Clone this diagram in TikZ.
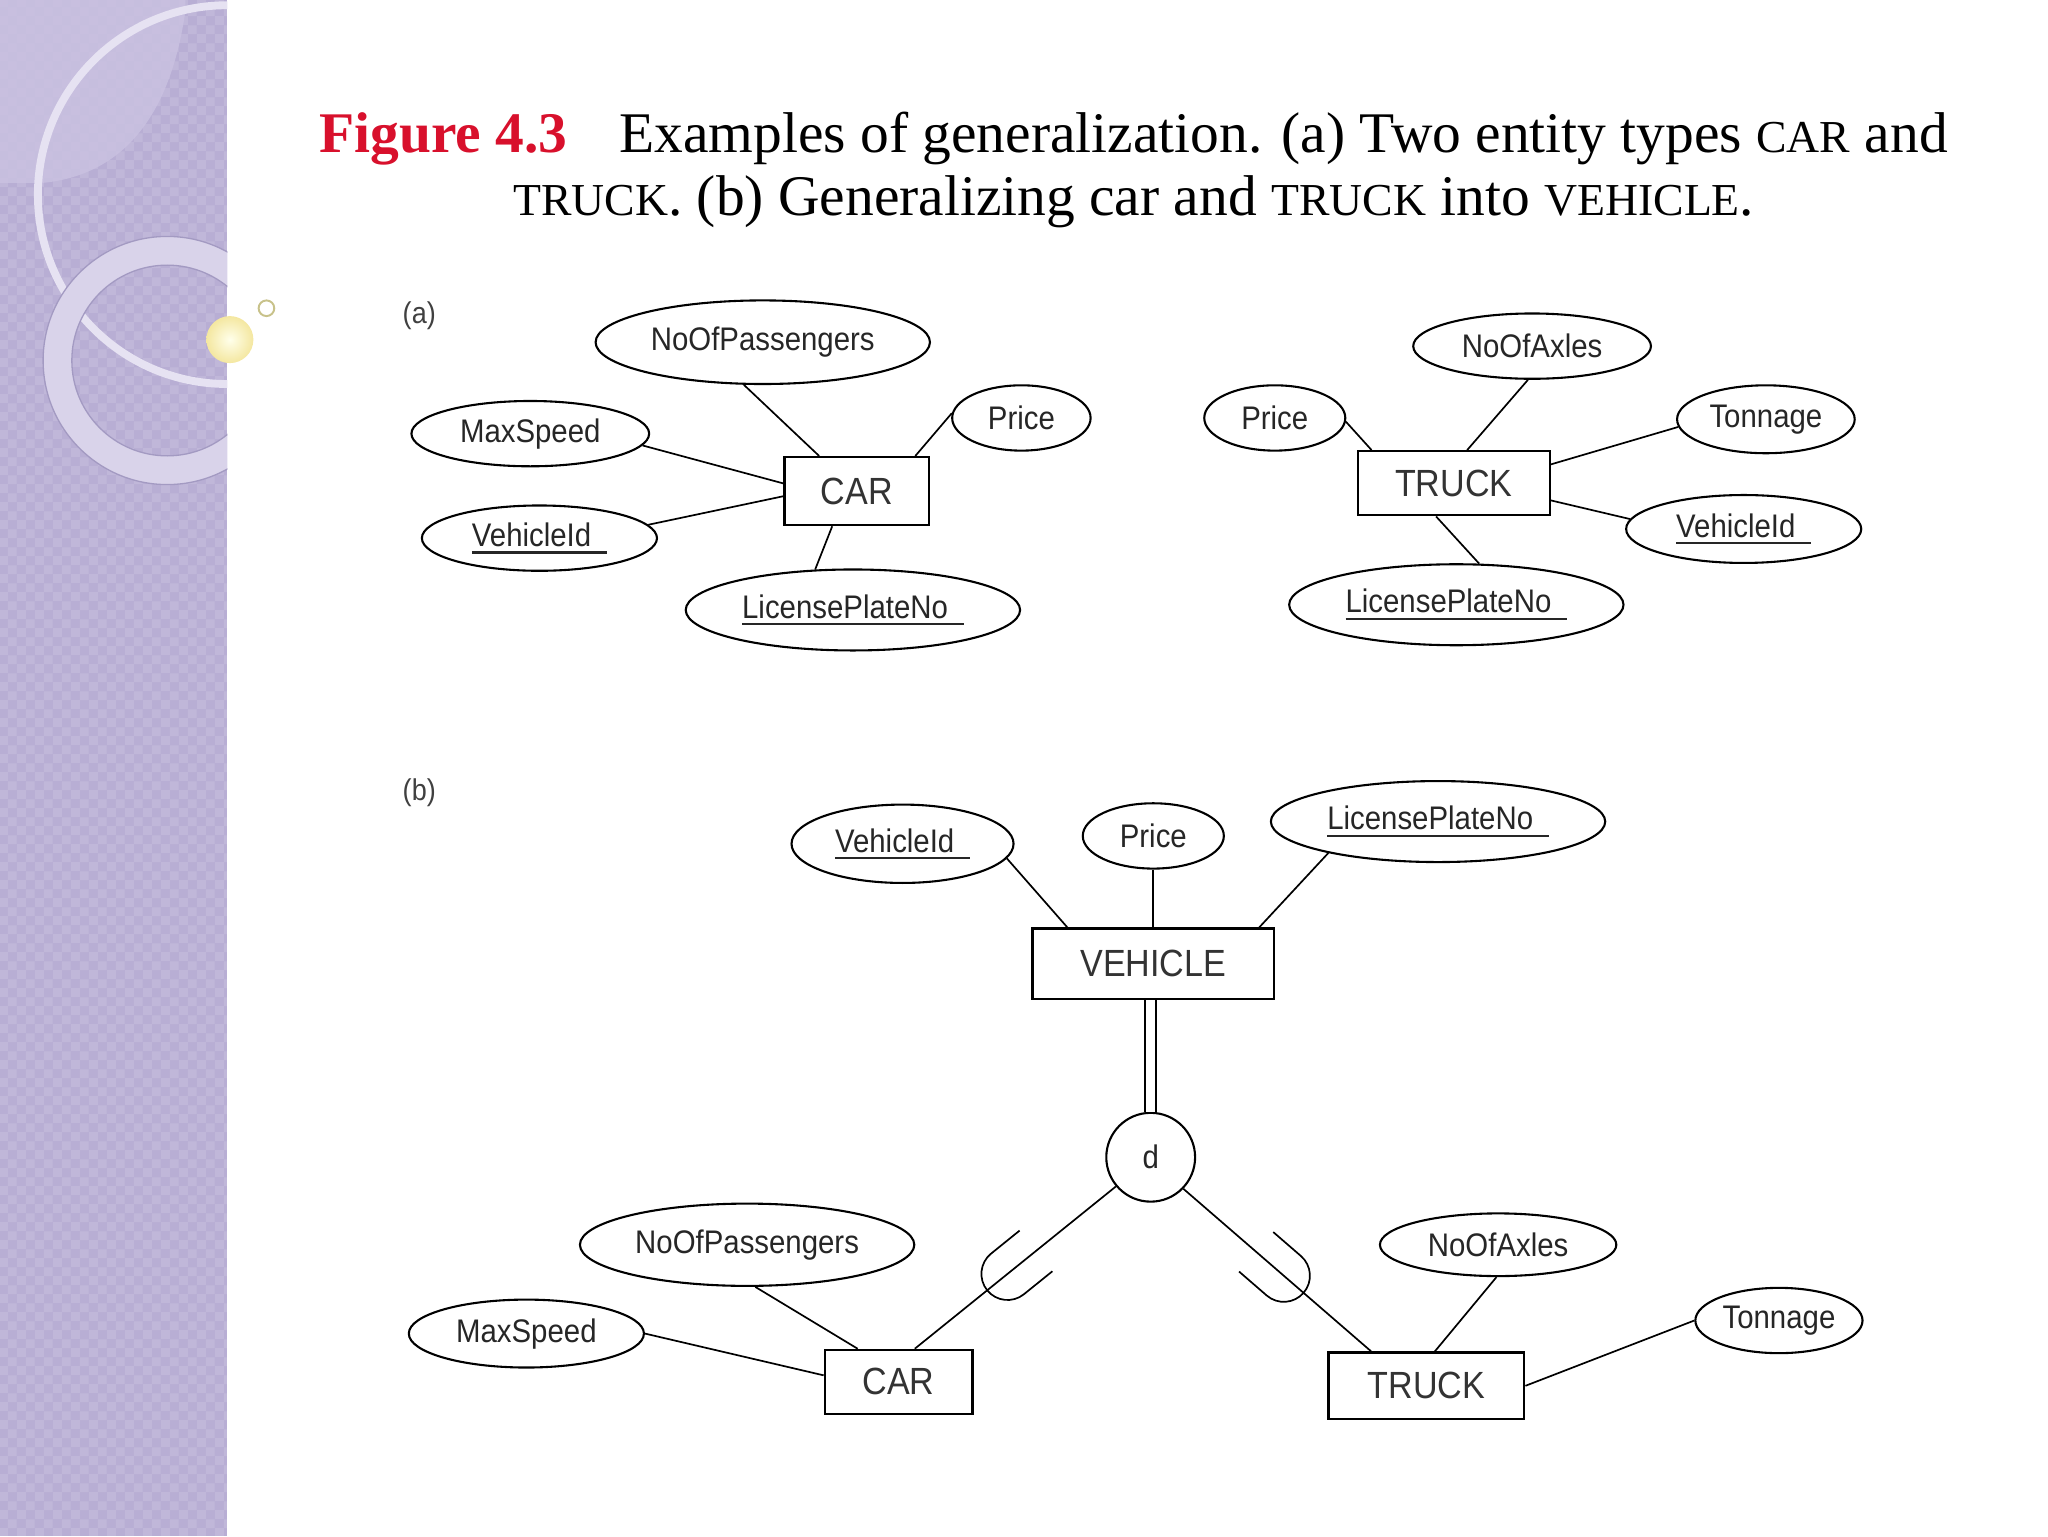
\documentclass[tikz,border=0pt]{standalone}
\usepackage{fontspec}
\setmainfont{Liberation Serif}
\newfontfamily\diagfont{Liberation Sans}[FakeStretch=0.9]
\usetikzlibrary{shapes.geometric,%
                decorations.markings,%
                patterns.meta}

\definecolor{panelpurple}{HTML}{B8AED4}
\definecolor{panellight}{HTML}{CAC2E1}
\definecolor{arcline}{HTML}{E6E2F2}
\definecolor{ringfill}{HTML}{D9D3EA}
\definecolor{ringedge}{HTML}{A39AC2}
\definecolor{figred}{HTML}{D8102C}
\definecolor{ballyellow}{HTML}{F4E7A0}
\definecolor{ballring}{HTML}{C8C28A}

\newcommand\attrfont{\diagfont\fontsize{25}{30}\selectfont}
\newcommand\entfont{\diagfont\fontsize{29}{34}\selectfont}
\newcommand\capsc[1]{{\fontsize{35}{40}\selectfont #1}}
\newcommand\keyattr[1]{\setbox0\hbox{#1\hspace{12pt}}\rlap{\rule[-5.5pt]{\wd0}{1.8pt}}\box0}

\tikzdeclarepattern{
  name=panelcheck,
  type=uncolored,
  bounding box={(0pt,0pt) and (14pt,14pt)},
  tile size={(14pt,14pt)},
  code={\fill (0pt,0pt) rectangle (7pt,7pt) (7pt,7pt) rectangle (14pt,14pt);}
}

\tikzset{
  attr/.style={ellipse, draw, line width=1.6pt, inner sep=0pt, font=\attrfont, text=black!85},
  entity/.style={rectangle, draw, line width=1.8pt, inner sep=0pt, font=\entfont, text=black!80},
  link/.style={line width=1.3pt},
  dbl/.style={double, double distance=7pt, line width=1.5pt},
  subset/.style={postaction={decorate, decoration={markings,
      mark=at position #1 with {\draw[line width=1.3pt] (-48,20) -- (-20,20)
        arc[start angle=90, end angle=-90, radius=20] -- (-48,-20);}}}},
  tag/.style={font=\diagfont\fontsize{23}{28}\selectfont, text=black!75},
}

\begin{document}
\begin{tikzpicture}[x=1pt,y=-1pt]
  \useasboundingbox (0,0) rectangle (1568,1176);

  % side panel
  \fill[panelpurple] (0,0) rectangle (174,1176);
  \fill[pattern=panelcheck, pattern color=white, opacity=0.12] (0,0) rectangle (174,1176);
  \begin{scope}
    \clip (0,0) rectangle (174,1176);
    \fill[panellight, opacity=0.8] (0,0) -- (142,0) -- (142,8) .. controls (130,92) and (92,134) .. (33,140) -- (0,140) -- cycle;
    \draw[arcline, line width=6pt] (174,149) circle (145);
    \fill[ringfill, even odd rule] (128,276) circle (95) (128,276) circle (73);
    \draw[ringedge, line width=1pt] (128,276) circle (95) (128,276) circle (73);
  \end{scope}
  \shade[inner color=yellow!8, outer color=ballyellow] (176,260) circle (18);
  \draw[ballring, line width=1.5pt] (204,236) circle (6);

  % caption
  \node[anchor=base] (capA) at (868,117) {\fontsize{44}{48}\selectfont
    {\color{figred}\bfseries Figure 4.3}\hspace{0.9em}Examples of generalization. (a) Two entity types \capsc{CAR} and};
  \node[anchor=base] (capB) at (868,165) {\fontsize{44}{48}\selectfont
    \capsc{TRUCK}. (b) Generalizing car and \capsc{TRUCK} into \capsc{VEHICLE}.};

  \node[tag] (tagA) at (321,242) {(a)};
  \node[tag] (tagB) at (321,607) {(b)};

  % (a) car
  \node[entity, minimum width=111pt, minimum height=52pt] (carA) at (656,376) {CAR};
  \node[attr, minimum width=256pt, minimum height=64pt] (nopA) at (584,262) {NoOfPassengers};
  \node[attr, minimum width=106pt, minimum height=50pt] (priceA) at (782,320) {Price};
  \node[attr, minimum width=182pt, minimum height=50pt] (msA) at (406,332) {MaxSpeed};
  \node[attr, minimum width=180pt, minimum height=50pt] (vidA) at (413,412) {\keyattr{VehicleId}};
  \node[attr, minimum width=256pt, minimum height=62pt] (lpnA) at (653,467) {\keyattr{LicensePlateNo}};

  \draw[link] (nopA.-114) -- (carA.137);
  \draw[link] (priceA.176) -- (carA.31);
  \draw[link] (msA.-6) -- (carA.174);
  \draw[link] (vidA.7) -- (carA.-176);
  \draw[link] (lpnA.133) -- (carA.-125);

  % (a) truck
  \node[entity, minimum width=147pt, minimum height=49pt] (truckA) at (1113,370) {TRUCK};
  \node[attr, minimum width=182pt, minimum height=50pt] (noaA) at (1173,265) {NoOfAxles};
  \node[attr, minimum width=108pt, minimum height=50pt] (priceTA) at (976,320) {Price};
  \node[attr, minimum width=136pt, minimum height=52pt] (tonA) at (1352,321) {Tonnage};
  \node[attr, minimum width=180pt, minimum height=52pt] (vidTA) at (1335,405) {\keyattr{VehicleId}};
  \node[attr, minimum width=256pt, minimum height=62pt] (lpnTA) at (1115,463) {\keyattr{LicensePlateNo}};

  \draw[link] (noaA.-97) -- (truckA.68);
  \draw[link] (priceTA.-3) -- (truckA.158);
  \draw[link] (tonA.185) -- (truckA.11);
  \draw[link] (vidTA.175) -- (truckA.-10);
  \draw[link] (lpnTA.61) -- (truckA.-118);

  % (b) vehicle
  \node[entity, minimum width=185pt, minimum height=54pt] (veh) at (883,738) {VEHICLE};
  \node[attr, minimum width=170pt, minimum height=60pt] (vidB) at (691,646) {\keyattr{VehicleId}};
  \node[attr, minimum width=108pt, minimum height=50pt] (priceB) at (883,640) {Price};
  \node[attr, minimum width=256pt, minimum height=62pt] (lpnB) at (1101,629) {\keyattr{LicensePlateNo}};
  \node[attr, circle, minimum size=68pt] (dB) at (881,886) {d};

  \draw[link] (vidB.-8) -- (veh.157);
  \draw[link] (priceB) -- (veh);
  \draw[link] (lpnB.196) -- (veh.19);
  \draw[dbl] (dB.north |- veh.south) -- (dB.north);

  % (b) car and truck
  \node[entity, minimum width=113pt, minimum height=49pt] (carB) at (688,1058) {CAR};
  \node[attr, minimum width=256pt, minimum height=63pt] (nopB) at (572,953) {NoOfPassengers};
  \node[attr, minimum width=180pt, minimum height=52pt] (msB) at (403,1021) {MaxSpeed};
  \node[entity, minimum width=150pt, minimum height=51pt] (truckB) at (1092,1061) {TRUCK};
  \node[attr, minimum width=181pt, minimum height=48pt] (noaB) at (1147,953) {NoOfAxles};
  \node[attr, minimum width=128pt, minimum height=50pt] (tonB) at (1362,1011) {Tonnage};

  \draw[link, subset=0.64] (dB.-140) -- (carB.64);
  \draw[link, subset=0.64] (dB.-44) -- (truckB.148);
  \draw[link] (nopB.-79) -- (carB.141);
  \draw[link] (msB.east) -- (carB.175);
  \draw[link] (noaB.-93) -- (truckB.76);
  \draw[link] (tonB.west) -- (truckB.east);

\end{tikzpicture}
\end{document}
